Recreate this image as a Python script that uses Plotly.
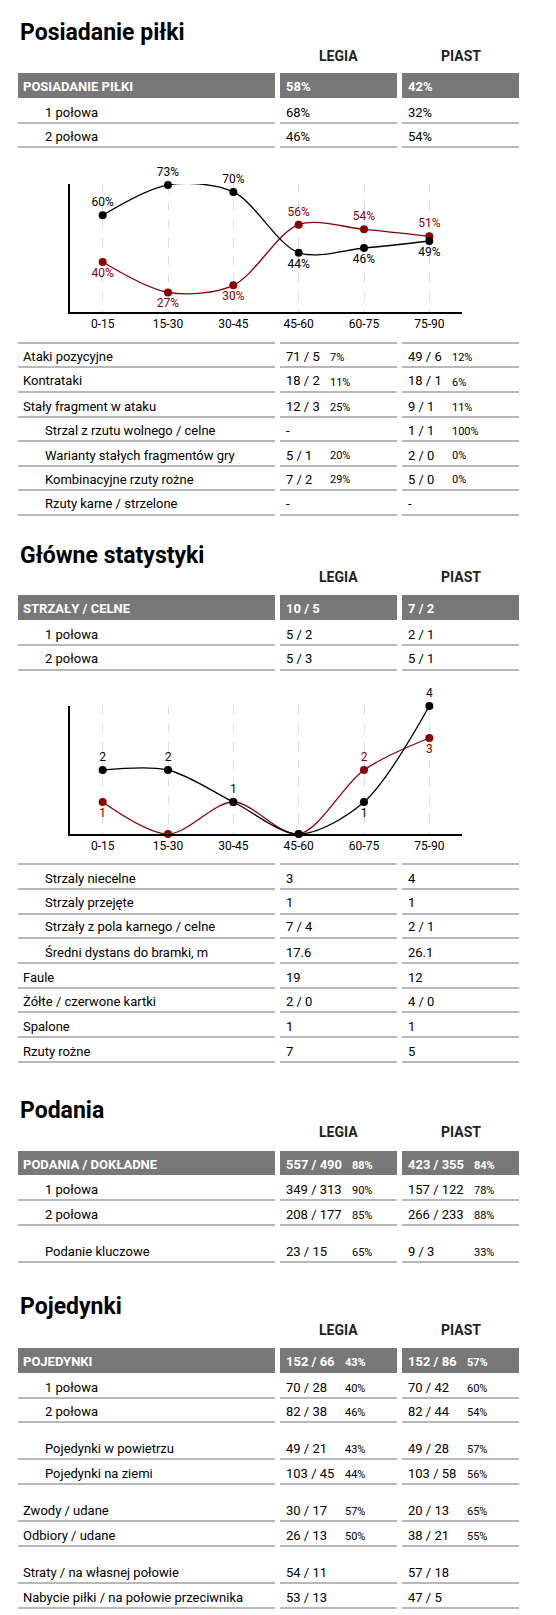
import plotly.graph_objects as go

W, H = 556, 1615
FONT = "Liberation Sans Narrow, Roboto, sans-serif"
RED = "#8b0000"
BAR = "#787878"
LINE = "#a0a0a0"

periods = ["0-15", "15-30", "30-45", "45-60", "60-75", "75-90"]
poss_legia = [60, 73, 70, 44, 46, 49]
poss_piast = [40, 27, 30, 56, 54, 51]
shots_legia = [2, 2, 1, 0, 1, 4]
shots_piast = [1, 0, 1, 0, 2, 3]

# section 1
s1_head = ["POSIADANIE PIŁKI", "58%", "", "42%", ""]
s1_labels = ["1 połowa", "2 połowa"]
s1_legia = ["68%", "46%"]
s1_piast = ["32%", "54%"]
s1b_labels = ["Ataki pozycyjne", "Kontrataki", "Stały fragment w ataku", "Strzal z rzutu wolnego / celne",
              "Warianty stałych fragmentów gry", "Kombinacyjne rzuty rożne", "Rzuty karne / strzelone"]
s1b_indent = [0, 0, 0, 1, 1, 1, 1]
s1b_legia = ["71 / 5", "18 / 2", "12 / 3", "-", "5 / 1", "7 / 2", "-"]
s1b_legia_pct = ["7%", "11%", "25%", "", "20%", "29%", ""]
s1b_piast = ["49 / 6", "18 / 1", "9 / 1", "1 / 1", "2 / 0", "5 / 0", "-"]
s1b_piast_pct = ["12%", "6%", "11%", "100%", "0%", "0%", ""]

# section 2
s2_head = ["STRZAŁY / CELNE", "10 / 5", "", "7 / 2", ""]
s2_labels = ["1 połowa", "2 połowa"]
s2_legia = ["5 / 2", "5 / 3"]
s2_piast = ["2 / 1", "5 / 1"]
s2b_labels = ["Strzaly niecelne", "Strzaly przejęte", "Strzały z pola karnego / celne", "Średni dystans do bramki, m",
              "Faule", "Żółte / czerwone kartki", "Spalone", "Rzuty rożne"]
s2b_indent = [1, 1, 1, 1, 0, 0, 0, 0]
s2b_legia = ["3", "1", "7 / 4", "17.6", "19", "2 / 0", "1", "7"]
s2b_piast = ["4", "1", "2 / 1", "26.1", "12", "4 / 0", "1", "5"]

# section 3
s3_head = ["PODANIA / DOKŁADNE", "557 / 490", "88%", "423 / 355", "84%"]
s3_labels = ["1 połowa", "2 połowa", "Podanie kluczowe"]
s3_legia = ["349 / 313", "208 / 177", "23 / 15"]
s3_legia_pct = ["90%", "85%", "65%"]
s3_piast = ["157 / 122", "266 / 233", "9 / 3"]
s3_piast_pct = ["78%", "88%", "33%"]

# section 4
s4_head = ["POJEDYNKI", "152 / 66", "43%", "152 / 86", "57%"]
s4_labels = ["1 połowa", "2 połowa", "Pojedynki w powietrzu", "Pojedynki na ziemi",
             "Zwody / udane", "Odbiory / udane", "Straty / na własnej połowie", "Nabycie piłki / na połowie przeciwnika"]
s4_indent = [1, 1, 1, 1, 0, 0, 0, 0]
s4_legia = ["70 / 28", "82 / 38", "49 / 21", "103 / 45", "30 / 17", "26 / 13", "54 / 11", "53 / 13"]
s4_legia_pct = ["40%", "46%", "43%", "44%", "57%", "50%", "", ""]
s4_piast = ["70 / 42", "82 / 44", "49 / 28", "103 / 58", "20 / 13", "38 / 21", "57 / 18", "47 / 5"]
s4_piast_pct = ["60%", "54%", "57%", "56%", "65%", "55%", "", ""]

X = lambda px: px / W
Y = lambda py: 1 - py / H

ann, shapes = [], []
COLS = [(10, 267), (272, 389), (394, 511)]


def text(x, y, t, size=13, color="black", bold=False, anchor="left"):
    if t == "":
        return
    ann.append(dict(x=X(x), y=Y(y), xref="paper", yref="paper", text=f"<b>{t}</b>" if bold else t,
                    showarrow=False, xanchor=anchor, yanchor="middle",
                    font=dict(family=FONT, size=size, color=color)))


def title(y, t, hy):
    text(10, y, t, size=23, bold=True)
    text(330, hy, "LEGIA", size=14, bold=True, color="#222", anchor="center")
    text(453, hy, "PIAST", size=14, bold=True, color="#222", anchor="center")


def head(y0, y1, vals, px1, px2):
    for a, b in COLS:
        shapes.append(dict(type="rect", xref="paper", yref="paper", x0=X(a), x1=X(b), y0=Y(y1), y1=Y(y0),
                           fillcolor=BAR, line=dict(width=0)))
    yc = (y0 + y1) / 2 + 1
    text(13, yc, vals[0], size=13, color="white", bold=True)
    text(276, yc, vals[1], size=13, color="white", bold=True)
    text(px1, yc + 1, vals[2], size=11, color="white", bold=True)
    text(398, yc, vals[3], size=13, color="white", bold=True)
    text(px2, yc + 1, vals[4], size=11, color="white", bold=True)


def hline(y):
    for a, b in COLS:
        shapes.append(dict(type="line", xref="paper", yref="paper", x0=X(a), x1=X(b), y0=Y(y), y1=Y(y),
                           line=dict(color=LINE, width=1.5)))


def rows(lines_y, labels, indent, lv, lp, pv, pp, px1, px2):
    for i, ly in enumerate(lines_y):
        ty = ly - 11
        text(35 if indent[i] else 13, ty, labels[i])
        text(276, ty, lv[i])
        text(px1, ty + 1, lp[i], size=11)
        text(398, ty, pv[i])
        text(px2, ty + 1, pp[i], size=11)
        hline(ly)


# Section 1
title(25, "Posiadanie piłki", 48)
head(65, 90, s1_head, 320, 442)
rows([115, 139], s1_labels, [1, 1], s1_legia, ["", ""], s1_piast, ["", ""], 320, 442)
hline(335)
rows([359, 384, 409, 433, 458, 482, 507], s1b_labels, s1b_indent, s1b_legia, s1b_legia_pct,
     s1b_piast, s1b_piast_pct, 320, 442)

# Section 2
title(547, "Główne statystyki", 569)
head(587, 612, s2_head, 320, 442)
rows([637, 662], s2_labels, [1, 1], s2_legia, ["", ""], s2_piast, ["", ""], 320, 442)
hline(856)
rows([881, 906, 930, 955, 980, 1004, 1029, 1054], s2b_labels, s2b_indent, s2b_legia, [""] * 8,
     s2b_piast, [""] * 8, 320, 442)

# Section 3
title(1102, "Podania", 1124)
head(1143, 1167, s3_head, 342, 464)
rows([1192, 1217, 1254], s3_labels, [1, 1, 1], s3_legia, s3_legia_pct, s3_piast, s3_piast_pct, 342, 464)

# Section 4
title(1298, "Pojedynki", 1322)
head(1340, 1365, s4_head, 335, 457)
rows([1390, 1414, 1451, 1476, 1513, 1538, 1575, 1600], s4_labels, s4_indent, s4_legia, s4_legia_pct,
     s4_piast, s4_piast_pct, 335, 457)

fig = go.Figure()

SM = 0.9
# Chart 1
pl = ["top center"] * 3 + ["bottom center"] * 3
pp = ["bottom center"] * 3 + ["top center"] * 3
fig.add_trace(go.Scatter(x=periods, y=poss_piast, mode="lines+markers+text", text=[f"{v}%" for v in poss_piast],
                         textposition=pp, textfont=dict(family=FONT, size=12, color=RED),
                         line=dict(color=RED, width=1.3, shape="spline", smoothing=SM), marker=dict(color=RED, size=8),
                         cliponaxis=False, xaxis="x", yaxis="y"))
fig.add_trace(go.Scatter(x=periods, y=poss_legia, mode="lines+markers+text", text=[f"{v}%" for v in poss_legia],
                         textposition=pl, textfont=dict(family=FONT, size=12, color="black"),
                         line=dict(color="black", width=1.3, shape="spline", smoothing=SM), marker=dict(color="black", size=8),
                         cliponaxis=False, xaxis="x", yaxis="y"))

# Chart 2
piast_txt = ["1", "", "", "", "2", "3"]
legia_txt = ["2", "2", "1", "", "1", "4"]
fig.add_trace(go.Scatter(x=periods, y=shots_piast, mode="lines+markers+text", text=piast_txt,
                         textposition=["bottom center", "bottom center", "bottom center", "bottom center",
                                       "top center", "bottom center"],
                         textfont=dict(family=FONT, size=12, color=RED),
                         line=dict(color=RED, width=1.3, shape="spline", smoothing=SM), marker=dict(color=RED, size=8),
                         cliponaxis=False, xaxis="x2", yaxis="y2"))
fig.add_trace(go.Scatter(x=periods, y=shots_legia, mode="lines+markers+text", text=legia_txt,
                         textposition=["top center", "top center", "top center", "top center",
                                       "bottom center", "top center"],
                         textfont=dict(family=FONT, size=12, color="black"),
                         line=dict(color="black", width=1.3, shape="spline", smoothing=SM), marker=dict(color="black", size=8),
                         cliponaxis=False, xaxis="x2", yaxis="y2"))

xax = dict(type="category", range=[-0.5, 5.5], showline=True, linecolor="black", linewidth=1.5,
           showgrid=True, gridcolor="#dddddd", griddash="dash", gridwidth=1, ticks="",
           tickfont=dict(family=FONT, size=12, color="black"), zeroline=False, fixedrange=True)
yax = dict(showline=True, linecolor="black", linewidth=1.5, showgrid=False, showticklabels=False,
           ticks="", zeroline=False, fixedrange=True)

fig.update_layout(
    width=W, height=H, margin=dict(l=0, r=0, t=0, b=0), paper_bgcolor="white", plot_bgcolor="white",
    showlegend=False, annotations=ann, shapes=shapes,
    xaxis=dict(xax, domain=[X(62), X(454)], anchor="y"),
    yaxis=dict(yax, domain=[Y(304), Y(176)], range=[18.6, 73.4], anchor="x"),
    xaxis2=dict(xax, domain=[X(62), X(454)], anchor="y2"),
    yaxis2=dict(yax, domain=[Y(826), Y(698)], range=[0, 4], anchor="x2"),
)
fig.write_html("out.html")
